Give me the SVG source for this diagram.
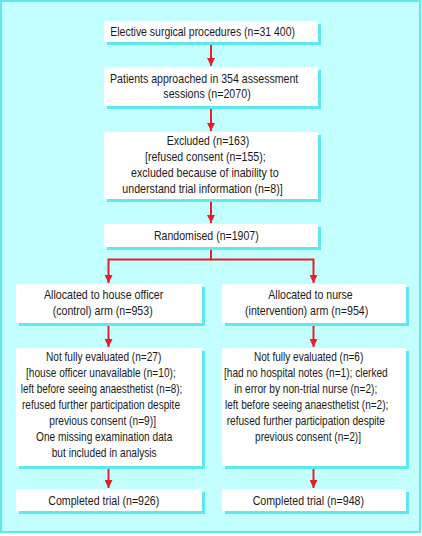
<svg xmlns="http://www.w3.org/2000/svg" width="422" height="536" viewBox="0 0 422 536">
<style>
.box{fill:#ffffff}
.sh{fill:#5de9ee}
.t{font-family:"Liberation Sans Narrow","Liberation Sans",Arial,sans-serif;font-size:13.5px;fill:#1a1a1a}
.c{fill:none;stroke:#e3202a;stroke-width:2}
</style>
<defs>
<marker id="ah" viewBox="0 0 10 10" refX="10" refY="5" markerWidth="10" markerHeight="8" markerUnits="userSpaceOnUse" orient="auto">
<path d="M0,0 L10,5 L0,10 z" fill="#e3202a"/>
</marker>
</defs>
<rect x="1" y="1" width="419" height="531" fill="#c4ffff" stroke="#5fe9ee" stroke-width="2"/>

<g id="n1">
<rect class="sh" x="107" y="24" width="214" height="21"/>
<rect class="box" x="104" y="21" width="214" height="21"/>
<text class="t" x="110.3" y="36" textLength="184.7" lengthAdjust="spacingAndGlyphs">Elective surgical procedures (n=31 400)</text>
</g>
<g id="n2">
<rect class="sh" x="107" y="70" width="214" height="39"/>
<rect class="box" x="104" y="67" width="214" height="39"/>
<text class="t" x="110" y="83" textLength="188.3" lengthAdjust="spacingAndGlyphs">Patients approached in 354 assessment</text>
<text class="t" x="163.3" y="98" textLength="87.4" lengthAdjust="spacingAndGlyphs">sessions (n=2070)</text>
</g>
<g id="n3">
<rect class="sh" x="107" y="135" width="214" height="67"/>
<rect class="box" x="104" y="132" width="214" height="67"/>
<text class="t" x="166.7" y="144.5" textLength="82.6" lengthAdjust="spacingAndGlyphs">Excluded (n=163)</text>
<text class="t" x="145" y="160.5" textLength="120.7" lengthAdjust="spacingAndGlyphs">[refused consent (n=155);</text>
<text class="t" x="131" y="176.5" textLength="147.7" lengthAdjust="spacingAndGlyphs">excluded because of inability to</text>
<text class="t" x="122.3" y="192.5" textLength="160.4" lengthAdjust="spacingAndGlyphs">understand trial information (n=8)]</text>
</g>
<g id="n4">
<rect class="sh" x="107" y="227" width="214" height="23"/>
<rect class="box" x="104" y="224" width="214" height="23"/>
<text class="t" x="154" y="240" textLength="104.7" lengthAdjust="spacingAndGlyphs">Randomised (n=1907)</text>
</g>
<g id="n5">
<rect class="sh" x="19" y="287" width="186" height="39"/>
<rect class="box" x="16" y="284" width="186" height="39"/>
<text class="t" x="44" y="299" textLength="119.3" lengthAdjust="spacingAndGlyphs">Allocated to house officer</text>
<text class="t" x="52.7" y="315" textLength="100" lengthAdjust="spacingAndGlyphs">(control) arm (n=953)</text>
</g>
<g id="n6">
<rect class="sh" x="225" y="287" width="184" height="39"/>
<rect class="box" x="222" y="284" width="184" height="39"/>
<text class="t" x="268.3" y="299" textLength="84.4" lengthAdjust="spacingAndGlyphs">Allocated to nurse</text>
<text class="t" x="245" y="315" textLength="123.3" lengthAdjust="spacingAndGlyphs">(intervention) arm (n=954)</text>
</g>
<g id="n7">
<rect class="sh" x="19" y="351" width="186" height="118"/>
<rect class="box" x="16" y="348" width="186" height="118"/>
<text class="t" x="46" y="361" textLength="115.3" lengthAdjust="spacingAndGlyphs">Not fully evaluated (n=27)</text>
<text class="t" x="26" y="377" textLength="149.7" lengthAdjust="spacingAndGlyphs">[house officer unavailable (n=10);</text>
<text class="t" x="20.7" y="393" textLength="161.6" lengthAdjust="spacingAndGlyphs">left before seeing anaesthetist (n=8);</text>
<text class="t" x="22" y="409" textLength="158" lengthAdjust="spacingAndGlyphs">refused further participation despite</text>
<text class="t" x="49.3" y="425" textLength="106.7" lengthAdjust="spacingAndGlyphs">previous consent (n=9)]</text>
<text class="t" x="36" y="441" textLength="136.3" lengthAdjust="spacingAndGlyphs">One missing examination data</text>
<text class="t" x="51.7" y="457" textLength="105" lengthAdjust="spacingAndGlyphs">but included in analysis</text>
</g>
<g id="n8">
<rect class="sh" x="225" y="351" width="184" height="118"/>
<rect class="box" x="222" y="348" width="184" height="118"/>
<text class="t" x="254" y="361" textLength="109.3" lengthAdjust="spacingAndGlyphs">Not fully evaluated (n=6)</text>
<text class="t" x="224" y="377" textLength="163.7" lengthAdjust="spacingAndGlyphs">[had no hospital notes (n=1); clerked</text>
<text class="t" x="234.3" y="393" textLength="143" lengthAdjust="spacingAndGlyphs">in error by non-trial nurse (n=2);</text>
<text class="t" x="225" y="409" textLength="163.3" lengthAdjust="spacingAndGlyphs">left before seeing anaesthetist (n=2);</text>
<text class="t" x="226.7" y="425" textLength="158.3" lengthAdjust="spacingAndGlyphs">refused further participation despite</text>
<text class="t" x="255" y="441" textLength="106" lengthAdjust="spacingAndGlyphs">previous consent (n=2)]</text>
</g>
<g id="n9">
<rect class="sh" x="19" y="492" width="186" height="22"/>
<rect class="box" x="16" y="489" width="186" height="22"/>
<text class="t" x="48.3" y="505" textLength="111" lengthAdjust="spacingAndGlyphs">Completed trial (n=926)</text>
</g>
<g id="n10">
<rect class="sh" x="225" y="492" width="184" height="22"/>
<rect class="box" x="222" y="489" width="184" height="22"/>
<text class="t" x="252.7" y="505" textLength="111.3" lengthAdjust="spacingAndGlyphs">Completed trial (n=948)</text>
</g>

<g id="connectors">
<path class="c" d="M211,45 V66" marker-end="url(#ah)"/>
<path class="c" d="M211,109 V131" marker-end="url(#ah)"/>
<path class="c" d="M211,202 V223" marker-end="url(#ah)"/>
<path class="c" d="M211,250 V259.5 H108.5 V283" marker-end="url(#ah)"/>
<path class="c" d="M211,259.5 H313.5 V283" marker-end="url(#ah)"/>
<path class="c" d="M108.5,326 V347" marker-end="url(#ah)"/>
<path class="c" d="M313.5,326 V347" marker-end="url(#ah)"/>
<path class="c" d="M108.5,469 V488" marker-end="url(#ah)"/>
<path class="c" d="M313.5,469 V488" marker-end="url(#ah)"/>
</g>
</svg>
